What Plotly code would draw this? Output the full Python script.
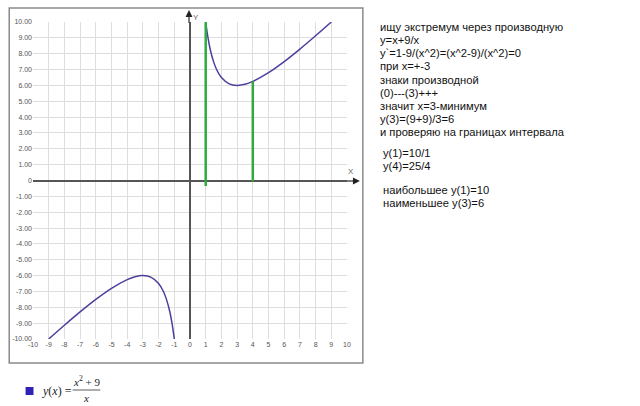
import plotly.graph_objects as go

# ---- data ----
left_x = [-9, -8, -7, -6, -5, -4, -3.5, -3, -2.5, -2, -1.7, -1.5, -1.3, -1.15, -1]
left_y = [-10, -9.13, -8.29, -7.5, -6.8, -6.25, -6.07, -6.0, -6.1, -6.5, -6.99, -7.5, -8.22, -8.98, -10]
right_x = [1, 1.15, 1.3, 1.5, 1.7, 2, 2.5, 3, 3.5, 4, 5, 6, 7, 8, 9]
right_y = [10, 8.98, 8.22, 7.5, 6.99, 6.5, 6.1, 6.0, 6.07, 6.25, 6.8, 7.5, 8.29, 9.13, 10]
seg1_x = [1, 1]
seg1_y = [-0.35, 10]
seg2_x = [4, 4]
seg2_y = [-0.05, 6.25]
x_ticks = list(range(-10, 11))
y_ticks = list(range(-10, 11))
y_ticktext = ["%.2f" % v if v != 0 else "0" for v in y_ticks]
notes1 = ["ищу экстремум через производную", "y=x+9/x",
          "y`=1-9/(x^2)=(x^2-9)/(x^2)=0", "при x=+-3", "знаки производной",
          "(0)---(3)+++", "значит x=3-минимум", "y(3)=(9+9)/3=6",
          "и проверяю на границах интервала"]
notes2 = ["y(1)=10/1", "y(4)=25/4", "", "наибольшее y(1)=10", "наименьшее y(3)=6"]

# ---- layout geometry ----
W, H = 640, 406
L, R, T, B = 30, 347, 22, 339


def pxx(px):
    return (px - L) / (R - L)


def pxy(py):
    return (B - py) / (B - T)


def tri(points):
    return "M " + " L ".join("%f,%f" % (pxx(a), pxy(b)) for a, b in points) + " Z"


CURVE = "#4b3f9e"
GREEN = "#2fab3e"

fig = go.Figure()
fig.add_trace(go.Scatter(x=left_x, y=left_y, mode="lines", line=dict(color=CURVE, width=1.5, shape="spline"),
                         hoverinfo="skip", cliponaxis=False))
fig.add_trace(go.Scatter(x=right_x, y=right_y, mode="lines", line=dict(color=CURVE, width=1.5, shape="spline"),
                         hoverinfo="skip", cliponaxis=False))
fig.add_trace(go.Scatter(x=seg1_x, y=seg1_y, mode="lines", line=dict(color=GREEN, width=2.5),
                         hoverinfo="skip", cliponaxis=False))
fig.add_trace(go.Scatter(x=seg2_x, y=seg2_y, mode="lines", line=dict(color=GREEN, width=2.5),
                         hoverinfo="skip", cliponaxis=False))

tickfont = dict(family="Liberation Sans, Arial", size=7, color="#555")
fig.update_xaxes(range=[-10, 10], tickvals=x_ticks, ticktext=[str(v) for v in x_ticks],
                 showgrid=True, gridcolor="#dedede", gridwidth=1,
                 zeroline=True, zerolinecolor="#555", zerolinewidth=1.5,
                 showline=False, ticks="", tickfont=tickfont, fixedrange=True)
fig.update_yaxes(range=[-10, 10], tickvals=y_ticks, ticktext=y_ticktext,
                 showgrid=True, gridcolor="#dedede", gridwidth=1,
                 zeroline=True, zerolinecolor="#555", zerolinewidth=1.5,
                 showline=False, ticks="", tickfont=tickfont, fixedrange=True)

shapes = [
    # outer frame
    dict(type="rect", xref="paper", yref="paper", x0=pxx(6), x1=pxx(363), y0=pxy(363), y1=pxy(8),
         line=dict(color="#8a8a8a", width=1.5), layer="below"),
    # axis extensions and arrowheads
    dict(type="line", xref="paper", yref="paper", x0=pxx(346), x1=pxx(354), y0=pxy(181), y1=pxy(181),
         line=dict(color="#555", width=1.5)),
    dict(type="path", xref="paper", yref="paper", path=tri([(353, 177.5), (360, 181), (353, 184.5)]),
         fillcolor="#222", line=dict(width=0)),
    dict(type="line", xref="paper", yref="paper", x0=pxx(187.5), x1=pxx(187.5), y0=pxy(23), y1=pxy(16),
         line=dict(color="#555", width=1.5)),
    dict(type="path", xref="paper", yref="paper", path=tri([(184, 17), (187.5, 10), (191, 17)]),
         fillcolor="#222", line=dict(width=0)),
    # fraction bar of legend formula
    dict(type="line", xref="paper", yref="paper", x0=pxx(70), x1=pxx(98), y0=pxy(390), y1=pxy(390),
         line=dict(color="#333", width=0.8)),
    # legend square
    dict(type="rect", xref="paper", yref="paper", x0=pxx(22.5), x1=pxx(30.5), y0=pxy(395), y1=pxy(387),
         line=dict(width=0), fillcolor="#3222b4"),
]

ann = []
ann.append(dict(xref="paper", yref="paper", x=pxx(356), y=pxy(172), text="X", showarrow=False,
                font=dict(family="Liberation Sans, Arial", size=8, color="#666")))
ann.append(dict(xref="paper", yref="paper", x=pxx(195), y=pxy(11), text="Y", showarrow=False,
                font=dict(family="Liberation Sans, Arial", size=8, color="#666")))

txtfont = dict(family="Liberation Sans, Arial", size=11.2, color="#111")
for i, s in enumerate(notes1):
    ann.append(dict(xref="paper", yref="paper", x=pxx(378), y=pxy(27.3 + 13.05 * i), text=s,
                    showarrow=False, xanchor="left", yanchor="middle", font=txtfont))
for i, s in enumerate(notes2):
    if s:
        ann.append(dict(xref="paper", yref="paper", x=pxx(381), y=pxy(153.3 + 12.3 * i), text=s,
                        showarrow=False, xanchor="left", yanchor="middle", font=txtfont))

mfont = dict(family="Liberation Serif, Times New Roman", size=12, color="#222")
ann.append(dict(xref="paper", yref="paper", x=pxx(37), y=pxy(391), text="<i>y</i>(<i>x</i>) =",
                showarrow=False, xanchor="left", yanchor="middle", font=mfont))
ann.append(dict(xref="paper", yref="paper", x=pxx(84), y=pxy(390.5), text="<i>x</i><sup>2</sup> + 9",
                showarrow=False, xanchor="center", yanchor="bottom", font=dict(mfont, size=11)))
ann.append(dict(xref="paper", yref="paper", x=pxx(84), y=pxy(398), text="<i>x</i>",
                showarrow=False, xanchor="center", yanchor="middle", font=dict(mfont, size=11)))

fig.update_layout(width=W, height=H, margin=dict(l=L, r=W - R, t=T, b=H - B, pad=0),
                  paper_bgcolor="white", plot_bgcolor="white", showlegend=False,
                  shapes=shapes, annotations=ann)

fig.write_html("out.html", config={"displayModeBar": False})
